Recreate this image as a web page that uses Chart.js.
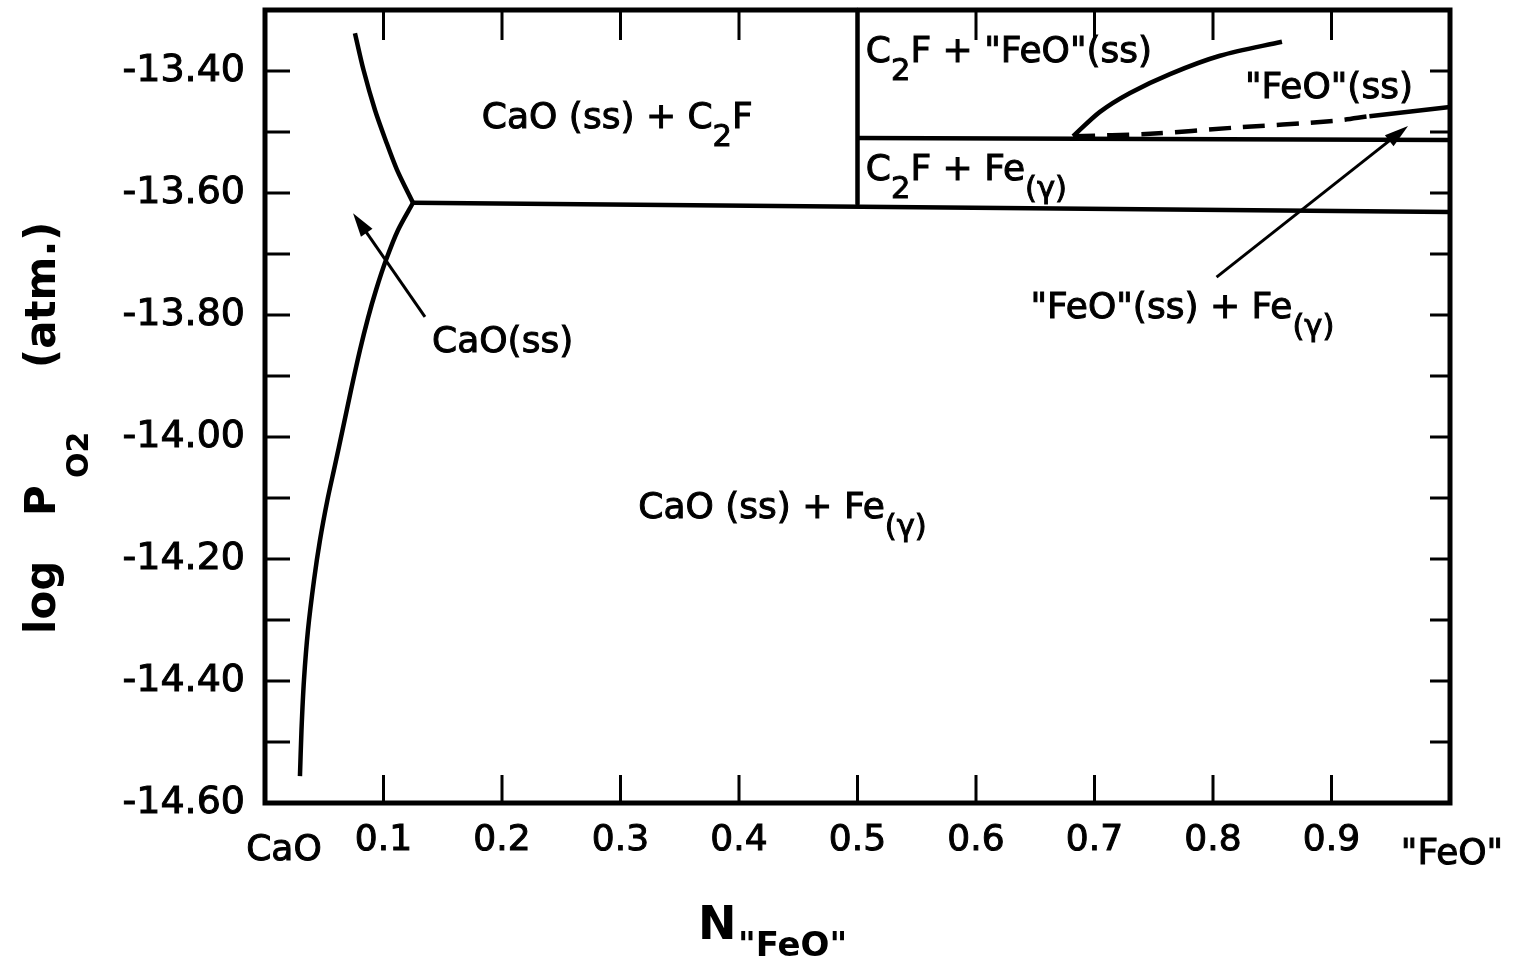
<!DOCTYPE html>
<html>
<head>
<meta charset="utf-8">
<script src="https://cdn.jsdelivr.net/npm/chart.js@4.4.1/dist/chart.umd.min.js"></script>
<style>
  html, body { margin: 0; padding: 0; background: #fff; }
  #wrap { width: 1515px; height: 969px; }
</style>
</head>
<body>
<div id="wrap"><canvas id="phaseChart"></canvas></div>
<script>
// CaO(ss) boundary above the three-phase point
const caoUpperX = [0.0759, 0.0831, 0.0928, 0.1017, 0.1114, 0.1249];
const caoUpperY = [-13.338, -13.398, -13.464, -13.513, -13.562, -13.616];

// CaO(ss) boundary below the three-phase point
const caoLowerX = [0.1249, 0.1122, 0.1021, 0.0937, 0.0869, 0.0802, 0.0726, 0.0654, 0.0591,
    0.0527, 0.0464, 0.0414, 0.0363, 0.0329, 0.0308, 0.0295];
const caoLowerY = [-13.616, -13.661, -13.710, -13.759, -13.805, -13.857, -13.923, -13.989, -14.046,
    -14.103, -14.169, -14.234, -14.316, -14.398, -14.480, -14.556];

// CaO(ss) + C2F / CaO(ss) + Fe(g) line
const threePhaseX = [0.1249, 1.0];
const threePhaseY = [-13.616, -13.631];

// C2F split at N = 0.5
const c2fX = [0.5, 0.5];
const c2fY = [-13.30, -13.618];

// C2F + "FeO"(ss) / C2F + Fe(g) line
const c2fFeX = [0.5, 1.0];
const c2fFeY = [-13.510, -13.513];

// "FeO"(ss) limit against C2F
const feoSolidX = [0.6819, 0.7046, 0.7300, 0.7637, 0.8059, 0.8582];
const feoSolidY = [-13.507, -13.467, -13.436, -13.405, -13.375, -13.352];

// "FeO"(ss) limit against Fe(g), dashed part then solid end
const feoDashX = [0.682, 0.747, 0.817, 0.901, 0.932];
const feoDashY = [-13.507, -13.503, -13.493, -13.482, -13.474];
const feoTailX = [0.932, 1.0];
const feoTailY = [-13.474, -13.459];

// phase field labels, {..} = subscript
const regionLabels = ['CaO (ss) + C{2}F', 'C{2}F + "FeO"(ss)', '"FeO"(ss)', 'C{2}F + Fe{(γ)}',
    '"FeO"(ss) + Fe{(γ)}', 'CaO(ss)', 'CaO (ss) + Fe{(γ)}'];
const regionLabelX = [0.183, 0.507, 0.827, 0.507, 0.646, 0.141, 0.315];
const regionLabelY = [-13.493, -13.385, -13.444, -13.579, -13.805, -13.861, -14.133];

// pointer arrows: from, to (tip)
const arrowFromX = [0.135, 0.803];
const arrowFromY = [-13.803, -13.738];
const arrowToX = [0.0743, 0.9646];
const arrowToY = [-13.633, -13.490];

const endLabels = ['CaO', '"FeO"'];

const FONT = '"DejaVu Sans", sans-serif';
const pts = (xs, ys) => xs.map((x, i) => ({ x: x, y: ys[i] }));

function line(xs, ys, extra) {
    return Object.assign({
        data: pts(xs, ys),
        showLine: true,
        borderColor: '#000',
        borderWidth: 4.5,
        pointRadius: 0,
        tension: 0,
        borderJoinStyle: 'round',
        clip: false,
    }, extra || {});
}

// heavier text: fill plus a thin stroke
function heavyText(ctx, t, x, y) {
    ctx.fillText(t, x, y);
    ctx.strokeText(t, x, y);
}

function drawRich(ctx, str, x, y, size) {
    const parts = str.split(/(\{[^}]*\})/).filter(s => s.length);
    let cx = x;
    parts.forEach(p => {
        const sub = p[0] === '{';
        const t = sub ? p.slice(1, -1) : p;
        const fs = sub ? size * 0.85 : size;
        ctx.font = fs + 'px ' + FONT;
        heavyText(ctx, t, cx, sub ? y + size * 0.5 : y);
        cx += ctx.measureText(t).width;
    });
}

const decor = {
    id: 'decor',
    afterDatasetsDraw(chart) {
        const { ctx, chartArea: a, scales: { x, y } } = chart;
        ctx.save();
        ctx.strokeStyle = '#000';
        ctx.fillStyle = '#000';

        // frame
        ctx.lineWidth = 5;
        ctx.strokeRect(a.left, a.top, a.right - a.left, a.bottom - a.top);

        // inward ticks
        ctx.lineWidth = 3;
        ctx.beginPath();
        x.ticks.forEach(t => {
            if (t.value <= 0.001 || t.value >= 0.999) return;
            const px = x.getPixelForValue(t.value);
            ctx.moveTo(px, a.bottom); ctx.lineTo(px, a.bottom - 28);
            ctx.moveTo(px, a.top); ctx.lineTo(px, a.top + 30);
        });
        y.ticks.forEach(t => {
            if (t.value <= -14.599 || t.value >= -13.301) return;
            const py = y.getPixelForValue(t.value);
            ctx.moveTo(a.left, py); ctx.lineTo(a.left + 25, py);
            ctx.moveTo(a.right, py); ctx.lineTo(a.right - 20, py);
        });
        ctx.stroke();

        // arrows
        ctx.lineWidth = 3;
        arrowFromX.forEach((fx, i) => {
            const x1 = x.getPixelForValue(fx), y1 = y.getPixelForValue(arrowFromY[i]);
            const x2 = x.getPixelForValue(arrowToX[i]), y2 = y.getPixelForValue(arrowToY[i]);
            const ang = Math.atan2(y2 - y1, x2 - x1);
            const c = Math.cos(ang), s = Math.sin(ang);
            ctx.beginPath();
            ctx.moveTo(x1, y1); ctx.lineTo(x2 - 18 * c, y2 - 18 * s);
            ctx.stroke();
            ctx.beginPath();
            ctx.moveTo(x2, y2);
            ctx.lineTo(x2 - 24 * c + 7 * s, y2 - 24 * s - 7 * c);
            ctx.lineTo(x2 - 24 * c - 7 * s, y2 - 24 * s + 7 * c);
            ctx.closePath();
            ctx.fill();
        });

        // phase field labels
        ctx.lineWidth = 1;
        ctx.textAlign = 'left';
        ctx.textBaseline = 'alphabetic';
        regionLabels.forEach((s, i) => {
            drawRich(ctx, s, x.getPixelForValue(regionLabelX[i]), y.getPixelForValue(regionLabelY[i]), 36);
        });

        // end members under the x axis
        ctx.textAlign = 'center';
        ctx.textBaseline = 'middle';
        ctx.font = '36px ' + FONT;
        heavyText(ctx, endLabels[0], x.getPixelForValue(0) + 19, a.bottom + 48);
        heavyText(ctx, endLabels[1], x.getPixelForValue(1) + 2, a.bottom + 52);

        // x title: N"FeO"
        ctx.textAlign = 'left';
        ctx.textBaseline = 'alphabetic';
        ctx.font = 'bold 46px ' + FONT;
        ctx.fillText('N', 698, 939);
        ctx.font = 'bold 34px ' + FONT;
        ctx.fillText('"FeO"', 738, 956);

        // y title: log PO2 (atm.)
        ctx.rotate(-Math.PI / 2);
        ctx.font = 'bold 42px ' + FONT;
        ctx.fillText('log', -634, 55);
        ctx.fillText('P', -516, 55);
        ctx.fillText('(atm.)', -368, 55);
        ctx.font = 'bold 30px ' + FONT;
        ctx.fillText('O2', -478, 88);
        ctx.restore();
    }
};

new Chart(document.getElementById('phaseChart'), {
    type: 'scatter',
    data: {
        datasets: [
            line(caoUpperX, caoUpperY, { tension: 0.3 }),
            line(caoLowerX, caoLowerY, { tension: 0.3 }),
            line(threePhaseX, threePhaseY),
            line(c2fX, c2fY),
            line(c2fFeX, c2fFeY),
            line(feoSolidX, feoSolidY, { tension: 0.3 }),
            line(feoDashX, feoDashY, { tension: 0.3, borderDash: [22, 12] }),
            line(feoTailX, feoTailY),
        ],
    },
    options: {
        animation: false,
        responsive: true,
        maintainAspectRatio: false,
        layout: { padding: { top: 10, right: 65, bottom: 0, left: 0 } },
        plugins: {
            legend: { display: false },
            tooltip: { enabled: false },
        },
        scales: {
            x: {
                type: 'linear',
                min: 0,
                max: 1,
                grid: { display: false, drawTicks: false },
                border: { display: false },
                ticks: {
                    stepSize: 0.1,
                    autoSkip: false,
                    maxRotation: 0,
                    padding: 16,
                    color: '#000',
                    textStrokeColor: '#000',
                    textStrokeWidth: 1,
                    font: { family: FONT, size: 36 },
                    callback: function(v) {
                        const r = Math.round(v * 10);
                        return (r <= 0 || r >= 10) ? '' : (r / 10).toFixed(1);
                    },
                },
                afterFit: function(s) {
                    s.height = 166;
                    s.paddingLeft = 0;
                    s.paddingRight = 0;
                },
            },
            y: {
                type: 'linear',
                min: -14.6,
                max: -13.3,
                grid: { display: false, drawTicks: false },
                border: { display: false },
                ticks: {
                    stepSize: 0.1,
                    autoSkip: false,
                    padding: 20,
                    color: '#000',
                    textStrokeColor: '#000',
                    textStrokeWidth: 1,
                    font: { family: FONT, size: 38 },
                    callback: function(v) {
                        const r = Math.round(v * 10);
                        return r % 2 === 0 ? (r / 10).toFixed(2) : '';
                    },
                },
                afterFit: function(s) {
                    s.width = 265;
                    s.paddingTop = 0;
                    s.paddingBottom = 0;
                },
            },
        },
    },
    plugins: [decor],
});
</script>
</body>
</html>
